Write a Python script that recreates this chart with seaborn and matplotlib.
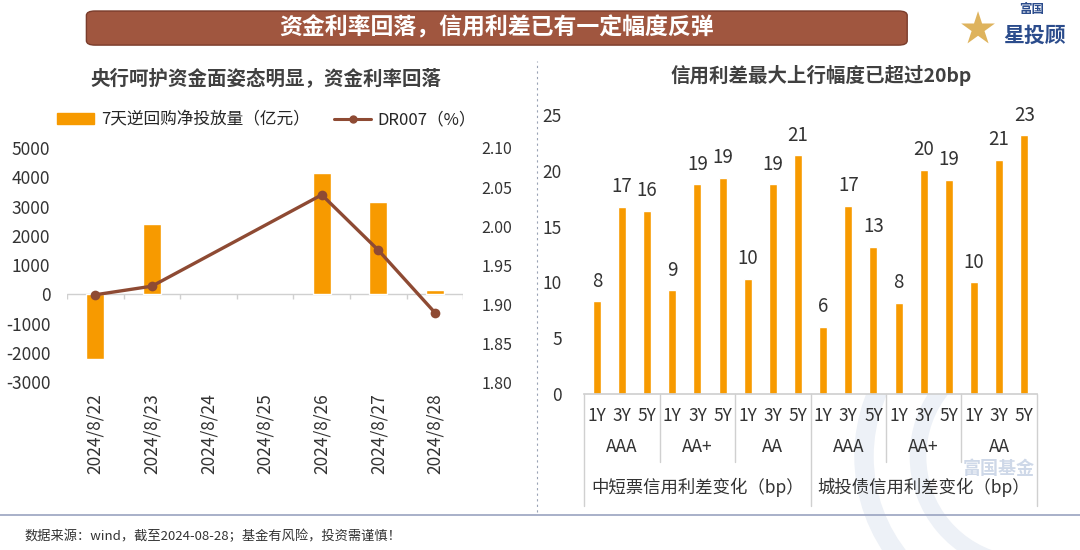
import numpy as np
import pandas as pd
import matplotlib.pyplot as plt
import matplotlib.transforms as mtransforms
from matplotlib.patches import FancyBboxPatch, Patch, Arc
from matplotlib.lines import Line2D
import seaborn as sns

# datos
dates = ["2024/8/22", "2024/8/23", "2024/8/24", "2024/8/25", "2024/8/26", "2024/8/27", "2024/8/28"]
repo_net = [-2200, 2400, np.nan, np.nan, 4150, 3160, 150]
dr007 = [1.912, 1.923, np.nan, np.nan, 2.040, 1.969, 1.889]

markets = ["中短票信用利差变化（bp）", "城投债信用利差变化（bp）"]
ratings = ["AAA", "AA+", "AA"]
tenors = ["1Y", "3Y", "5Y"]
mtn_spread = [8.3, 16.8, 16.4, 9.3, 18.8, 19.4, 10.3, 18.8, 21.4]
lgfv_spread = [6.0, 16.9, 13.2, 8.2, 20.1, 19.2, 10.0, 21.0, 23.2]

ORANGE = "#F79A00"
BROWN = "#8E4A33"
TXT = "#333333"

sns.set_theme(style="white")
plt.rcParams["font.family"] = ["Noto Sans CJK SC", "DejaVu Sans"]
plt.rcParams["axes.unicode_minus"] = False

fig = plt.figure(figsize=(10.8, 5.5), dpi=100)

# marca de agua (arcos suaves)
for w, lw in [(0.30, 14), (0.20, 12)]:
    fig.add_artist(Arc((0.95, 0.17), w, w * 1080 / 550, theta1=95, theta2=265,
                       transform=fig.transFigure, color="#edf1f7", lw=lw, zorder=0))

# banner
banner = FancyBboxPatch((0.08, 0.918), 0.76, 0.062, boxstyle="round,pad=0,rounding_size=0.008",
                        transform=fig.transFigure, facecolor="#A0563F", edgecolor="#7a3c2b", lw=1)
fig.patches.append(banner)
fig.text(0.46, 0.949, "资金利率回落，信用利差已有一定幅度反弹", ha="center", va="center",
         color="white", fontsize=16.5, fontweight="bold")
# logo
fig.text(0.905, 0.945, "★", color="#D9A640", fontsize=26, ha="center", va="center", alpha=0.85)
fig.text(0.955, 0.982, "富国", color="#2B4C8C", fontsize=9, fontweight="bold", ha="center", va="center")
fig.text(0.958, 0.935, "星投顾", color="#2B4C8C", fontsize=15, fontweight="bold", ha="center",
         va="center", style="italic")

# separador y pie
fig.add_artist(Line2D([0.497, 0.497], [0.07, 0.89], transform=fig.transFigure, color="#9aa3b5",
                      lw=0.8, ls=(0, (2, 3))))
fig.add_artist(Line2D([0, 1], [0.063, 0.063], transform=fig.transFigure, color="#9aa3c0", lw=1.2))
fig.text(0.023, 0.024, "数据来源：wind，截至2024-08-28；基金有风险，投资需谨慎！", fontsize=9.5,
         color=TXT, va="center")
fig.text(0.925, 0.149, "富国基金", color="#c9d4e6", fontsize=13, fontweight="bold",
         ha="center", va="center", alpha=0.9)

# ---- panel izquierdo ----
ax = fig.add_axes([0.062, 0.305, 0.367, 0.426])
df_l = pd.DataFrame({"date": dates, "repo": repo_net, "dr": dr007})
sns.barplot(data=df_l, x="date", y="repo", order=dates, color=ORANGE, width=0.32,
            saturation=1, ax=ax)
ax.set_ylim(-3000, 5000)
ax.set_yticks(np.arange(-3000, 5001, 1000))
ax.set_xlim(-0.5, len(dates) - 0.5)
ax.axhline(0, color="#d0d0d0", lw=1, zorder=0)
ax.vlines(np.arange(len(dates) + 1) - 0.5, -150, 0, color="#d0d0d0", lw=1)
for s in ax.spines.values():
    s.set_visible(False)
ax.set_xlabel("")
ax.set_ylabel("")
ax.tick_params(axis="x", rotation=90, labelsize=12.5, colors=TXT, pad=8, length=0)
ax.tick_params(axis="y", labelsize=12.5, colors=TXT, length=0, pad=12)

ax2 = ax.twinx()
sns.lineplot(x=np.arange(len(dates)), y=dr007, ax=ax2, color=BROWN, lw=2.4, marker="o",
             markersize=7, markeredgewidth=0)
ax2.set_ylim(1.80, 2.10)
ax2.set_yticks(np.arange(1.80, 2.101, 0.05))
ax2.set_yticklabels([f"{v:.2f}" for v in np.arange(1.80, 2.101, 0.05)])
ax2.set_xlim(-0.5, len(dates) - 0.5)
for s in ax2.spines.values():
    s.set_visible(False)
ax2.tick_params(axis="y", labelsize=11.5, colors=TXT, length=0, pad=13)

fig.text(0.246, 0.857, "央行呵护资金面姿态明显，资金利率回落", ha="center", va="center",
         fontsize=14, fontweight="bold", color="#404040")
handles = [Patch(color=ORANGE, label="7天逆回购净投放量（亿元）"),
           Line2D([0], [0], color=BROWN, lw=2.2, marker="o", markersize=5, label="DR007（%）")]
fig.legend(handles=handles, loc="center", bbox_to_anchor=(0.247, 0.782), ncol=2, frameon=False,
           fontsize=12, handlelength=2.2, columnspacing=1.5, handletextpad=0.4)

# ---- panel derecho ----
rows = []
for m, vals in zip(markets, [mtn_spread, lgfv_spread]):
    i = 0
    for r in ratings:
        for t in tenors:
            rows.append({"key": f"{m}|{r}|{t}", "market": m, "rating": r, "tenor": t, "bp": vals[i]})
            i += 1
df_r = pd.DataFrame(rows)

bx = fig.add_axes([0.541, 0.2836, 0.419, 0.507])
sns.barplot(data=df_r, x="key", y="bp", color=ORANGE, width=0.32, saturation=1, ax=bx)
bx.bar_label(bx.containers[0], fmt="%.0f", padding=7, fontsize=13.5, color=TXT)
bx.set_ylim(0, 25)
bx.set_yticks(range(0, 26, 5))
bx.set_xlim(-0.5, len(df_r) - 0.5)
bx.set_xticks(range(len(df_r)))
bx.set_xticklabels(df_r["tenor"])
bx.set_xlabel("")
bx.set_ylabel("")
for s in ["top", "right", "left"]:
    bx.spines[s].set_visible(False)
bx.spines["bottom"].set_color("#d0d0d0")
bx.tick_params(axis="x", labelsize=12.5, colors=TXT, length=0, pad=9)
bx.tick_params(axis="y", labelsize=12.5, colors=TXT, length=0, pad=16)

trans = mtransforms.blended_transform_factory(bx.transData, bx.transAxes)
n_r = len(tenors)
n_m = len(ratings) * n_r
for k in range(len(markets) * len(ratings)):
    bx.text(k * n_r + 1, -0.19, ratings[k % len(ratings)], transform=trans, ha="center",
            va="center", fontsize=12.5, color=TXT)
for j, m in enumerate(markets):
    bx.text(j * n_m + (n_m - 1) / 2, -0.335, m, transform=trans, ha="center", va="center",
            fontsize=12.5, color=TXT)
for b in np.arange(0, len(df_r) + 1, n_r) - 0.5:
    low = -0.40 if (b + 0.5) % n_m == 0 else -0.245
    bx.plot([b, b], [0, low], transform=trans, color="#d0d0d0", lw=1, clip_on=False)

fig.text(0.76, 0.862, "信用利差最大上行幅度已超过20bp", ha="center", va="center",
         fontsize=14, fontweight="bold", color="#404040")

fig.savefig("out.png", dpi=100)
